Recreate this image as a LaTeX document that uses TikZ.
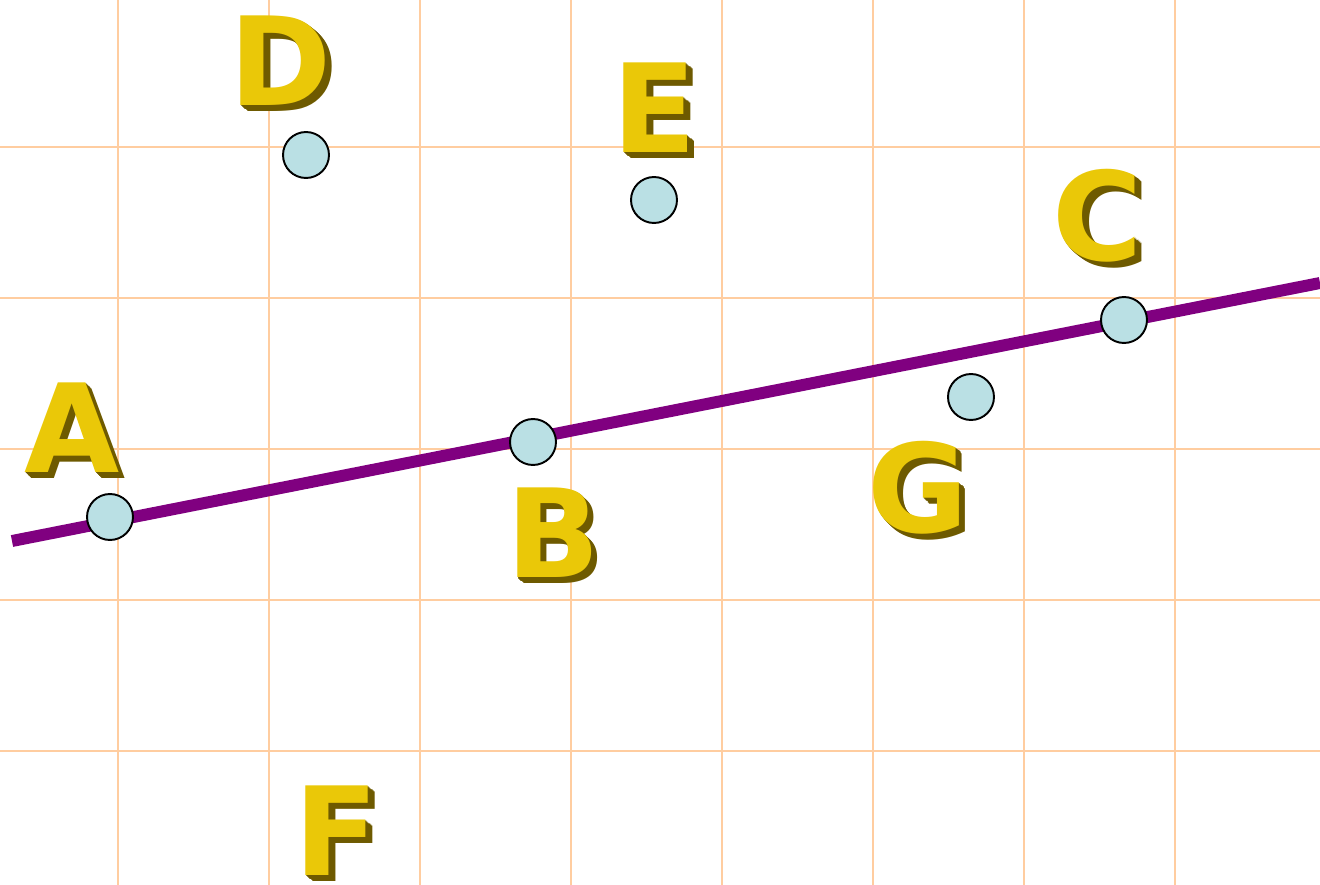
\documentclass[tikz,border=0pt]{standalone}
\usepackage{fontspec}
\newfontfamily\letterfont{DejaVu Sans}
\usetikzlibrary{calc,positioning}
\definecolor{GridPeach}{RGB}{255,205,160}
\definecolor{LinePurple}{RGB}{128,0,128}
\definecolor{PointBlue}{RGB}{186,224,228}
\definecolor{LetterGold}{RGB}{234,200,8}
\definecolor{LetterShadow}{RGB}{110,90,0}
\tikzset{
  gridline/.style={GridPeach,line width=1.1pt},
  pt/.style={circle,draw=black,fill=PointBlue,line width=1.1pt,minimum size=0.92cm,inner sep=0pt},
  letter/.style={inner sep=0pt,font=\letterfont\bfseries\fontsize{70}{70}\selectfont}
}
\newcommand\goldletter[3]{%
  \foreach \k in {7,6,...,1}
    \node[letter,text=LetterShadow] at ($(#2)+(\k*0.9,\k*0.8)$) {#3};
  \node[letter,text=LetterGold] (#1) at (#2) {#3};
}

\begin{document}
\begin{tikzpicture}[x=0.02cm,y=-0.02cm]
      \useasboundingbox (0,0) rectangle (1320,885);
      \foreach \gx in {118,269,...,1175}
        \draw[gridline] (\gx,0)--(\gx,885);
      \foreach \gy in {147,298,...,752}
        \draw[gridline] (0,\gy)--(1320,\gy);
      % straight line through A, B, C
      \coordinate (lineL) at (12,541);
      \coordinate (lineR) at (1320,283);
      \draw[LinePurple,line width=6.8pt] (lineL)--(lineR);
      \node[pt] (ptA) at (110,517) {};
      \node[pt] (ptB) at (533,442) {};
      \node[pt] (ptC) at (1124,320) {};
      \node[pt] (ptD) at (306,155) {};
      \node[pt] (ptE) at (654,200) {};
      \node[pt] (ptG) at (971,397) {};
      \goldletter{lblA}{72,428}{A}
      \goldletter{lblB}{553,533}{B}
      \goldletter{lblC}{1098,216}{C}
      \goldletter{lblD}{281,61}{D}
      \goldletter{lblE}{655,108}{E}
      \goldletter{lblF}{337,831}{F}
      \goldletter{lblG}{918,488}{G}
    \end{tikzpicture}
\end{document}
